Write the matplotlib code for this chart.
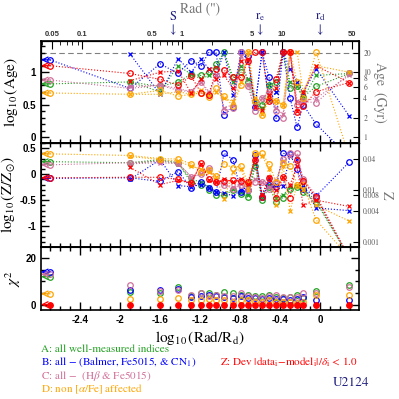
import numpy as np
import matplotlib
matplotlib.use('Agg')
import matplotlib.pyplot as plt
from matplotlib.ticker import MultipleLocator, FixedLocator, NullFormatter

plt.rcParams['mathtext.fontset'] = 'stix'
plt.rcParams['font.family'] = 'STIXGeneral'

# radii, log10(Rad/Rd); first one is the centre (upper limit, drawn with arrow)
rad = [-2.70, -1.90, -1.60, -1.42, -1.29, -1.19, -1.11, -1.04, -0.96, -0.87, -0.79,
       -0.72, -0.65, -0.58, -0.51, -0.44, -0.37, -0.30, -0.23, -0.17, -0.04, 0.29]
nan = np.nan

# log10(Age) -- circles / crosses
age_A_o = [0.82, 0.85, 0.78, 0.85, 0.97, 0.95, 1.00, 1.12, 1.31, 0.92, 1.00, 0.85, 0.55, 0.50, 0.80, 0.85, 1.31, 0.75, 0.78, 0.62, 0.78, 0.98]
age_B_o = [1.19, 0.75, 1.13, 0.98, 1.18, 1.10, 1.31, 1.31, 0.34, 0.47, 1.31, 1.25, 0.47, 1.31, 0.92, 0.29, 1.31, 0.60, 0.15, 0.50, 0.20, -0.30]
age_C_o = [0.88, 0.75, 0.80, 0.72, 0.70, 0.85, 0.65, 0.95, 0.40, 0.45, 1.31, 0.78, 0.40, 0.60, 0.70, 0.40, 0.29, 1.31, 0.50, 0.55, 0.53, 0.98]
age_D_o = [0.68, 0.66, 0.72, 0.63, 0.66, 0.68, 0.62, 0.75, 0.63, 0.48, 0.80, 1.31, 0.55, 0.34, 0.58, 0.55, 0.50, 1.31, 0.85, 0.60, 1.31, -0.30]
age_Z_o = [1.10, 0.98, 0.89, 0.80, 0.94, 0.68, 0.65, 1.05, 1.03, 0.92, 0.92, 1.18, 1.31, 1.31, 0.55, 0.90, 1.31, 1.31, 0.38, 0.48, 0.70, 0.84]

age_A_x = [nan, 0.85, 0.70, 1.10, 0.97, 0.90, 0.95, 1.08, 1.31, 0.85, 1.10, 0.90, 0.55, 0.45, 0.80, 0.70, 1.31, 0.85, 0.78, 0.60, 0.95, 0.98]
age_B_x = [nan, 1.28, 0.66, 1.21, 1.00, 1.20, 1.05, 0.95, 1.31, 0.65, 1.31, 1.18, 0.50, 1.31, 0.55, 0.70, 1.31, 1.05, 0.85, 0.68, 1.05, 0.33]
age_C_x = [nan, 0.78, 0.80, 0.75, 0.70, 0.85, 0.70, 0.95, 0.45, 0.50, 1.25, 0.80, 0.45, 0.60, 0.70, 0.45, 0.35, 1.31, 0.55, 0.55, 0.60, 0.95]
age_D_x = [nan, 0.66, 0.66, 0.70, 0.66, 0.72, 0.65, 0.70, 0.60, 0.55, 0.85, 1.31, 0.60, 0.35, 0.62, 0.55, 0.50, 1.31, 1.31, 0.70, 1.10, 1.00]
age_Z_x = [nan, 0.87, 1.00, 1.02, 0.68, 0.90, 1.05, 0.90, 0.95, 0.75, 1.18, 1.20, 0.46, 0.42, 0.65, 0.75, 1.31, 1.31, 0.41, 0.70, 1.10, 0.84]

# log10(Z/Zsun) -- circles / crosses
met_A_o = [0.24, 0.22, 0.28, 0.22, -0.16, -0.20, -0.30, -0.41, -0.41, -0.30, -0.38, -0.43, 0.15, -0.49, -0.25, -0.53, -0.45, -0.28, -0.25, -0.35, -0.53, -1.6]
met_B_o = [-0.08, -0.07, -0.14, 0.05, -0.26, -0.15, -0.26, -0.34, 0.40, 0.28, -0.35, -0.30, 0.37, -0.43, -0.20, -0.25, 0.40, 0.38, 0.10, -0.28, -0.42, 0.23]
met_C_o = [0.18, 0.22, 0.25, 0.22, -0.05, 0.00, 0.12, -0.16, -0.20, -0.28, -0.20, -0.30, -0.15, -0.15, -0.28, -0.15, 0.30, 0.40, 0.40, -0.10, -0.45, -1.6]
met_D_o = [0.39, 0.36, 0.30, 0.29, 0.20, 0.05, 0.08, -0.03, 0.20, 0.12, 0.16, -0.18, 0.40, 0.40, 0.19, -0.15, 0.22, 0.15, -0.20, -0.20, -0.88, -1.6]
met_Z_o = [-0.07, -0.06, -0.06, -0.10, -0.17, 0.22, -0.10, -0.16, -0.13, -0.12, -0.14, -0.15, 0.28, -0.43, -0.08, -0.45, -0.05, -0.45, 0.27, -0.14, -0.44, -1.6]

met_A_x = [nan, 0.20, 0.26, 0.20, -0.10, -0.15, -0.25, -0.35, -0.38, -0.28, -0.35, -0.40, 0.20, -0.45, -0.20, -0.45, -0.40, -0.25, -0.22, -0.30, -0.50, -1.6]
met_B_x = [nan, -0.10, 0.28, -0.22, -0.24, -0.20, -0.26, -0.34, -0.36, -0.42, -0.30, -0.25, 0.32, -0.40, -0.10, -0.20, -0.22, 0.35, 0.30, -0.20, -0.65, -0.70]
met_C_x = [nan, 0.20, 0.22, 0.20, -0.05, 0.00, 0.10, -0.15, -0.18, -0.25, -0.18, -0.28, -0.10, -0.15, -0.25, -0.12, 0.25, 0.35, 0.35, -0.10, -0.40, -1.6]
met_D_x = [nan, 0.34, 0.28, 0.25, 0.15, 0.10, 0.05, -0.05, -0.48, 0.05, 0.10, -0.30, 0.38, 0.35, 0.10, -0.60, 0.15, -0.70, -0.20, -0.30, -0.60, -0.90]
met_Z_x = [nan, 0.13, -0.20, -0.12, -0.17, 0.20, -0.12, -0.16, -0.10, -0.15, -0.10, -0.18, 0.30, -0.40, -0.05, -0.30, -0.05, -0.20, 0.15, -0.60, -0.50, -0.62]

# chi^2
chi_A = [12.0, 5.5, 5.0, 7.5, 4.0, 5.0, 5.0, 4.5, 5.5, 5.0, 4.5, 4.5, 4.0, 4.0, 4.5, 3.5, 3.0, 3.5, 4.5, 3.0, 6.0, 8.5]
chi_B = [14.0, 6.5, 6.5, 7.0, 3.5, 4.0, 4.5, 4.0, 3.5, 3.0, 4.0, 3.0, 3.0, 2.5, 3.0, 2.5, 2.5, 2.0, 2.5, 3.5, 2.0, 2.0]
chi_C = [13.0, 8.5, 6.0, 6.5, 4.5, 5.0, 4.0, 4.5, 4.0, 4.0, 5.0, 4.0, 3.5, 3.0, 4.0, 4.5, 3.5, 3.5, 3.5, 5.0, 5.0, 7.5]
chi_D = [4.8, 2.5, 2.5, 3.0, 2.0, 2.0, 2.5, 2.0, 2.0, 1.5, 2.0, 2.0, 1.5, 1.5, 2.0, 1.5, 1.5, 1.5, 1.0, 1.5, 4.5, 4.5]
chi_Z = [0.3] * 22

names = ['A', 'B', 'C', 'D', 'Z']
colors = {'A': '#22a022', 'B': '#0000ff', 'C': '#d0709a', 'D': '#ffa500', 'Z': '#ff0000'}
age_o = dict(zip(names, [age_A_o, age_B_o, age_C_o, age_D_o, age_Z_o]))
age_x = dict(zip(names, [age_A_x, age_B_x, age_C_x, age_D_x, age_Z_x]))
met_o = dict(zip(names, [met_A_o, met_B_o, met_C_o, met_D_o, met_Z_o]))
met_x = dict(zip(names, [met_A_x, met_B_x, met_C_x, met_D_x, met_Z_x]))
chi = dict(zip(names, [chi_A, chi_B, chi_C, chi_D, chi_Z]))

age_ticks = [1, 2, 4, 6, 8, 10, 20]
z_ticks = [0.001, 0.004, 0.008, 0.01, 0.04]
Zsun = 0.02
rd_off = 1.38       # log10(Rd / arcsec)
top_ticks = [0.05, 0.1, 0.5, 1, 5, 10, 50]
marks = [(-1.47, 'S'), (-0.60, r'$\mathrm{r_e}$'), (0.0, r'$\mathrm{r_d}$')]

xlim = (-2.79, 0.39)
navy = '#202080'
tickfont = dict(family='Liberation Sans', weight='bold', size=7)

fig = plt.figure(figsize=(3.99, 3.99), dpi=100)
L, W = 0.103, 0.797
ax1 = fig.add_axes([L, 0.6416, W, 0.2556])
ax2 = fig.add_axes([L, 0.381, W, 0.2607])
ax3 = fig.add_axes([L, 0.2231, W, 0.158])

def style(ax, major, minor):
    ax.set_xlim(*xlim)
    ax.xaxis.set_major_locator(MultipleLocator(0.4))
    ax.xaxis.set_minor_locator(MultipleLocator(0.1))
    ax.yaxis.set_major_locator(MultipleLocator(major))
    ax.yaxis.set_minor_locator(MultipleLocator(minor))
    ax.tick_params(which='both', direction='in', top=True, right=True, width=1)
    ax.tick_params(which='major', length=6)
    ax.tick_params(which='minor', length=3)
    for s in ax.spines.values():
        s.set_linewidth(1.2)

def draw(ax, yo, yx):
    for n in names:
        c = colors[n]
        ax.plot(rad, yo[n], ls=':', lw=0.8, color=c, marker='o', ms=4,
                mfc='none', mec=c, mew=0.9)
        ax.plot(rad, yx[n], ls=':', lw=0.8, color=c, marker='x', ms=3, mew=0.9)
        # centre value: upper limit in radius
        ax.annotate('', xy=(rad[0] - 0.09, yo[n][0]), xytext=(rad[0], yo[n][0]),
                    arrowprops=dict(arrowstyle='->', color=c, lw=0.9, shrinkA=0, shrinkB=0))

# --- Age panel
draw(ax1, age_o, age_x)
ax1.axhline(np.log10(20), color='gray', ls=(0, (5, 3)), lw=0.8, zorder=0)
ax1.set_ylim(-0.09, 1.48)
style(ax1, 0.5, 0.1)
ax1.set_yticks([0, 0.5, 1])
ax1.set_yticklabels(['0', '0.5', '1'], fontdict=tickfont)
ax1.set_xticklabels([])
ax1.set_ylabel(r'$\log_{10}(\mathrm{Age})$', fontsize=11, labelpad=2)

r1 = ax1.twinx()
r1.set_ylim(ax1.get_ylim())
r1.set_yticks(np.log10(age_ticks))
r1.set_yticklabels([str(a) for a in age_ticks], color='#555555', fontsize=5.5)
r1.tick_params(direction='in', length=4, pad=3)
r1.set_ylabel('Age  (Gyr)', rotation=270, color='#777777', fontsize=10, labelpad=11)

t1 = ax1.twiny()
t1.set_xscale('log')
t1.set_xlim(10 ** (xlim[0] + rd_off), 10 ** (xlim[1] + rd_off))
t1.xaxis.set_major_locator(FixedLocator(top_ticks))
t1.set_xticklabels(['0.05', '0.1', '0.5', '1', '5', '10', '50'],
                   fontdict=dict(family='Liberation Sans', weight='bold', size=5.5), color='#333333')
t1.tick_params(which='both', direction='in', pad=2)
t1.tick_params(which='major', length=6)
t1.tick_params(which='minor', length=3)
t1.xaxis.set_minor_formatter(NullFormatter())
fig.text(0.5, 0.975, "Rad ('')", color='#777777', fontsize=10, ha='center', va='center')

for xv, lab in marks:
    ax1.annotate(lab, xy=(xv, 1.23), xycoords=('data', 'axes fraction'),
                 ha='center', va='center', color=navy, fontsize=9)
    ax1.annotate(r'$\downarrow$', xy=(xv, 1.11), xycoords=('data', 'axes fraction'),
                 ha='center', va='center', color=navy, fontsize=9)

# --- Metallicity panel
draw(ax2, met_o, met_x)
ax2.set_ylim(-1.4, 0.6)
style(ax2, 0.5, 0.1)
ax2.set_yticks([-1, -0.5, 0, 0.5])
ax2.set_yticklabels(['-1', '-0.5', '0', '0.5'], fontdict=tickfont)
ax2.set_xticklabels([])
ax2.set_ylabel(r'$\log_{10}(\mathrm{Z/Z_{\odot}})$', fontsize=11, labelpad=2)

r2 = ax2.twinx()
r2.set_ylim(ax2.get_ylim())
r2.set_yticks(np.log10(np.array(z_ticks) / Zsun))
r2.set_yticklabels([str(z) for z in z_ticks], color='#555555', fontsize=5.5)
r2.tick_params(direction='in', length=4, pad=3)
r2.set_ylabel('Z', rotation=270, color='#777777', fontsize=10, labelpad=9)

# --- chi^2 panel
for n in names:
    c = colors[n]
    filled = (n == 'Z')
    ax3.plot(rad, chi[n], ls='none', marker='o', ms=4, mec=c, mew=0.9,
             mfc=c if filled else 'none')
    ax3.annotate('', xy=(rad[0] - 0.09, chi[n][0]), xytext=(rad[0], chi[n][0]),
                 arrowprops=dict(arrowstyle='->', color=c, lw=0.9, shrinkA=0, shrinkB=0))
ax3.set_ylim(-2, 24.5)
style(ax3, 20, 5)
ax3.set_yticks([0, 20])
ax3.set_yticklabels(['0', '20'], fontdict=tickfont)
ax3.set_xticks([-2.4, -2, -1.6, -1.2, -0.8, -0.4, 0])
ax3.set_xticklabels(['-2.4', '-2', '-1.6', '-1.2', '-0.8', '-0.4', '0'], fontdict=tickfont)
ax3.set_ylabel(r'$\chi^2$', fontsize=11, labelpad=2)
ax3.set_xlabel(r'$\log_{10}(\mathrm{Rad/R_d})$', fontsize=11, labelpad=3)

# --- legend text
fs = 8
fig.text(0.103, 0.118, 'A: all well-measured indices', color=colors['A'], fontsize=fs)
fig.text(0.103, 0.084, r'B: all $-$ (Balmer, Fe5015, & CN$_1$)', color=colors['B'], fontsize=fs)
fig.text(0.103, 0.050, r'C: all $-$  (H$\beta$ & Fe5015)', color=colors['C'], fontsize=fs)
fig.text(0.103, 0.016, r'D: non [$\alpha$/Fe] affected', color=colors['D'], fontsize=fs)
fig.text(0.552, 0.084, r'Z: Dev $|$data$_{\rm i}$$-$model$_{\rm i}$$|$/$\delta_{\rm i}$ < 1.0',
         color=colors['Z'], fontsize=fs)
fig.text(0.835, 0.032, 'U2124', color=navy, fontsize=9.5)

fig.savefig('out.png', dpi=100)
